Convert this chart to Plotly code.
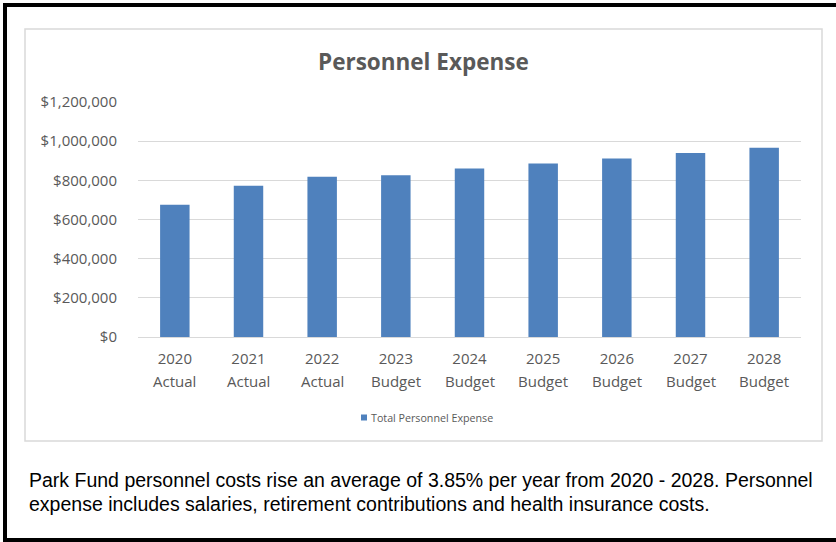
import plotly.graph_objects as go

# Personnel expense by fiscal year
years = ["2020", "2021", "2022", "2023", "2024", "2025", "2026", "2027", "2028"]
status = ["Actual", "Actual", "Actual", "Budget", "Budget", "Budget", "Budget", "Budget", "Budget"]
personnel_expense = [675000, 772000, 818000, 826000, 861000, 886000, 911000, 940000, 967000]

y_ticks = [0, 200000, 400000, 600000, 800000, 1000000, 1200000]
y_tick_text = ["$0", "$200,000", "$400,000", "$600,000", "$800,000", "$1,000,000", "$1,200,000"]

series_name = "Total Personnel Expense"
chart_title = "Personnel Expense"
caption_lines = [
    "Park Fund personnel costs rise an average of 3.85% per year from 2020 - 2028. Personnel",
    "expense includes salaries, retirement contributions and health insurance costs.",
]

W, H = 836, 542
BAR_COLOR = "#4f81bd"
GRID = "#d9d9d9"
LABEL = "#595959"
FONT = "Open Sans, Calibri, sans-serif"
TICK_SIZE = 15

fig = go.Figure(
    go.Bar(
        x=years,
        y=personnel_expense,
        name=series_name,
        marker=dict(color=BAR_COLOR, line=dict(width=0)),
        width=0.4,
        showlegend=False,
    )
)

# plot area: x 138..801, y 102..337 in pixels
ml, mr, mt, mb = 138, W - 801, 102, H - 337
pw = W - ml - mr
ph = H - mt - mb


def paper_x(x):
    return (x - ml) / pw


def paper_y(y):
    return (H - y - mb) / ph


shapes = [
    # light chart frame
    dict(type="rect", xref="paper", yref="paper",
         x0=paper_x(25), x1=paper_x(822), y0=paper_y(441), y1=paper_y(29),
         line=dict(color=GRID, width=1.5), fillcolor="rgba(0,0,0,0)", layer="below"),
    # black page border (left, top, bottom)
    dict(type="line", xref="paper", yref="paper",
         x0=paper_x(5), x1=paper_x(5), y0=paper_y(3), y1=paper_y(542),
         line=dict(color="black", width=4)),
    dict(type="line", xref="paper", yref="paper",
         x0=paper_x(3), x1=paper_x(836), y0=paper_y(5), y1=paper_y(5),
         line=dict(color="black", width=4)),
    dict(type="line", xref="paper", yref="paper",
         x0=paper_x(3), x1=paper_x(836), y0=paper_y(540), y1=paper_y(540),
         line=dict(color="black", width=4)),
    # legend swatch
    dict(type="rect", xref="paper", yref="paper",
         x0=paper_x(361), x1=paper_x(367), y0=paper_y(420.5), y1=paper_y(414.5),
         fillcolor=BAR_COLOR, line=dict(width=0)),
]

annotations = [
    dict(text=f"<b>{chart_title}</b>", xref="paper", yref="paper",
         x=paper_x(423.5), y=paper_y(62), showarrow=False,
         font=dict(family=FONT, size=22.5, color=LABEL), xanchor="center", yanchor="middle"),
    dict(text=series_name, xref="paper", yref="paper",
         x=paper_x(369), y=paper_y(417.5), showarrow=False,
         font=dict(family=FONT, size=10.7, color=LABEL), xanchor="left", yanchor="middle"),
]

# second line of each category label (Actual / Budget), placed by category index
for i, st in enumerate(status):
    annotations.append(
        dict(text=st, xref="x", yref="paper", x=i, y=paper_y(381), showarrow=False,
             font=dict(family=FONT, size=TICK_SIZE, color=LABEL), xanchor="center", yanchor="middle")
    )

for i, line in enumerate(caption_lines):
    annotations.append(
        dict(text=line, xref="paper", yref="paper",
             x=paper_x(27), y=paper_y(480 + 24 * i), showarrow=False,
             font=dict(family="Liberation Sans, Arial, sans-serif", size=19.5, color="black"),
             xanchor="left", yanchor="middle")
    )

fig.update_layout(
    width=W, height=H,
    margin=dict(l=ml, r=mr, t=mt, b=mb, pad=0),
    paper_bgcolor="white", plot_bgcolor="white",
    shapes=shapes,
    annotations=annotations,
    font=dict(family=FONT, color=LABEL),
)
fig.update_xaxes(
    type="category", range=[-0.5, len(years) - 0.5],
    showgrid=False, showline=False, ticks="",
    tickfont=dict(family=FONT, size=TICK_SIZE, color=LABEL),
    ticklabelstandoff=11,
)
fig.update_yaxes(
    range=[0, 1200000], tickvals=y_ticks, ticktext=y_tick_text,
    showgrid=True, gridcolor=GRID, gridwidth=1.3,
    zeroline=True, zerolinecolor=GRID, zerolinewidth=1.3,
    showline=False, ticks="",
    tickfont=dict(family=FONT, size=TICK_SIZE, color=LABEL),
    ticklabelstandoff=20,
)

fig.write_html("out.html")
